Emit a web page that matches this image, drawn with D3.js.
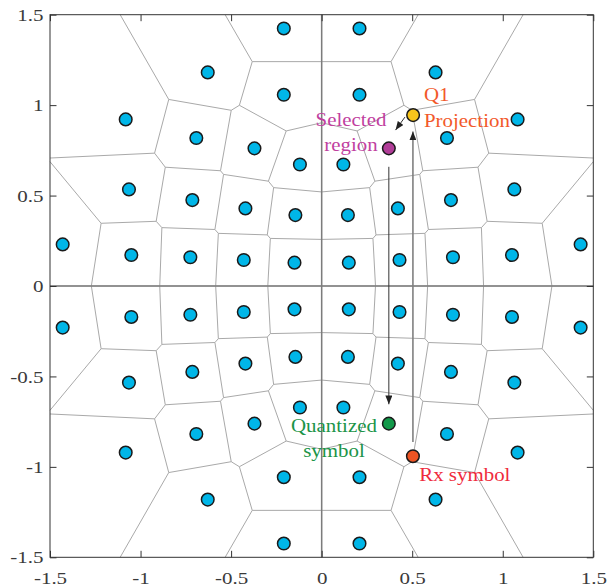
<!DOCTYPE html>
<html>
<head>
<meta charset="utf-8">
<script src="https://cdn.jsdelivr.net/npm/d3@7"></script>
<style>
  body { margin: 0; background: #fff; }
  svg { display: block; }
  text { font-family: "Liberation Serif", "Times New Roman", serif; }
</style>
</head>
<body>
<div id="chart"></div>
<script>
// ---------------- DATA ----------------

// 64-point constellation, listed Q1, Q2, Q3, Q4
const constX = [
   0.150,  0.430,  0.725,  1.051,  1.430,  0.145,  0.421,  0.714,  1.064,  0.120,  0.371,  0.692,  1.082,  0.209,  0.629,  0.209,
  -0.150, -0.430, -0.725, -1.051, -1.430, -0.145, -0.421, -0.714, -1.064, -0.120, -0.371, -0.692, -1.082, -0.209, -0.629, -0.209,
  -0.150, -0.430, -0.725, -1.051, -1.430, -0.145, -0.421, -0.714, -1.064, -0.120, -0.371, -0.692, -1.082, -0.209, -0.629, -0.209,
   0.150,  0.430,  0.725,  1.051,  1.430,  0.145,  0.421,  0.714,  1.064,  0.120,  0.371,  0.692,  1.082,  0.209,  0.629,  0.209
];
const constY = [
   0.129,  0.144,  0.159,  0.171,  0.230,  0.392,  0.429,  0.475,  0.534,  0.672,  0.761,  0.818,  0.921,  1.057,  1.181,  1.424,
   0.129,  0.144,  0.159,  0.171,  0.230,  0.392,  0.429,  0.475,  0.534,  0.672,  0.761,  0.818,  0.921,  1.057,  1.181,  1.424,
  -0.129, -0.144, -0.159, -0.171, -0.230, -0.392, -0.429, -0.475, -0.534, -0.672, -0.761, -0.818, -0.921, -1.057, -1.181, -1.424,
  -0.129, -0.144, -0.159, -0.171, -0.230, -0.392, -0.429, -0.475, -0.534, -0.672, -0.761, -0.818, -0.921, -1.057, -1.181, -1.424
];
const selectedIdx = 10;   // selected region (Q1)
const quantizedIdx = 58;  // quantized symbol (Q4)

const projPoint = [0.505, 0.945];
const rxPoint = [0.504, -0.941];

const tickVals = [-1.5, -1, -0.5, 0, 0.5, 1, 1.5];

// annotations: text, anchor point (data units)
const labelText = ["Selected", "region", "Q1", "Projection", "Quantized", "symbol", "Rx symbol"];
const labelX = [0.162, 0.162, 0.565, 0.565, 0.068, 0.068, 0.539];
const labelY = [0.887, 0.749, 1.024, 0.881, -0.807, -0.944, -1.078];
const labelAnchor = ["middle", "middle", "start", "start", "middle", "middle", "start"];
const labelColor = ["#c13f9f", "#c13f9f", "#f2592a", "#f2592a", "#1b9448", "#1b9448", "#ef2b3c"];

// arrows: [x1, y1, x2, y2] in data units
const arrows = [
  { from: [0.504, -0.862], to: [0.504, 0.854], color: "#808080", w: 1.6 },
  { from: [0.371, 0.659], to: [0.371, -0.654], color: "#333", w: 1 },
  { from: [0.460, 0.934], to: [0.408, 0.862], color: "#333", w: 1 }
];

// ---------------- CHART ----------------

const width = 607, height = 586;
const margin = { top: 14.7, right: 13.7, bottom: 28.7, left: 50 };

const svg = d3.select("#chart")
  .append("svg")
  .attr("width", width)
  .attr("height", height);

const x = d3.scaleLinear().domain([-1.5, 1.5]).range([margin.left, width - margin.right]);
const y = d3.scaleLinear().domain([-1.5, 1.5]).range([height - margin.bottom, margin.top]);

const defs = svg.append("defs");
["#808080", "#333"].forEach((c, i) => {
  defs.append("marker")
    .attr("id", "arr" + i)
    .attr("viewBox", "0 0 10 8")
    .attr("refX", 10).attr("refY", 4)
    .attr("markerWidth", 9).attr("markerHeight", 7)
    .attr("markerUnits", "userSpaceOnUse")
    .attr("orient", "auto")
    .append("path")
    .attr("d", "M0,0 L10,4 L0,8 Z")
    .attr("fill", "#222");
});

// voronoi regions
const pts = constX.map((d, i) => [x(d), y(constY[i])]);
const voronoi = d3.Delaunay.from(pts)
  .voronoi([x(-1.5), y(1.5), x(1.5), y(-1.5)]);

svg.append("path")
  .attr("d", voronoi.render())
  .attr("fill", "none")
  .attr("stroke", "#a9a9a9")
  .attr("stroke-width", 1);

// zero lines
svg.append("line")
  .attr("x1", x(0)).attr("x2", x(0))
  .attr("y1", y(1.5)).attr("y2", y(-1.5))
  .attr("stroke", "#7c7c7c").attr("stroke-width", 1.5);
svg.append("line")
  .attr("x1", x(-1.5)).attr("x2", x(1.5))
  .attr("y1", y(0)).attr("y2", y(0))
  .attr("stroke", "#7c7c7c").attr("stroke-width", 1.5);

// axes (ticks inward, box on)
function styleAxis(g, labels) {
  g.select(".domain").remove();
  g.selectAll(".tick line").attr("stroke", "#333");
  g.selectAll("text")
    .attr("fill", "#3a3a3a")
    .style("font-size", "17.5px")
    .attr("transform", "scale(1.2,1)");
  if (!labels) g.selectAll("text").remove();
}

svg.append("g")
  .attr("transform", `translate(0,${y(-1.5)})`)
  .call(d3.axisBottom(x).tickValues(tickVals).tickSize(-6.5).tickPadding(14).tickFormat(d => String(d)))
  .call(g => styleAxis(g, true));

svg.append("g")
  .attr("transform", `translate(${x(-1.5)},0)`)
  .call(d3.axisLeft(y).tickValues(tickVals).tickSize(-6.5).tickPadding(5.5).tickFormat(d => String(d)))
  .call(g => styleAxis(g, true));

svg.append("g")
  .attr("transform", `translate(0,${y(1.5)})`)
  .call(d3.axisTop(x).tickValues(tickVals).tickSize(-6.5))
  .call(g => styleAxis(g, false));

svg.append("g")
  .attr("transform", `translate(${x(1.5)},0)`)
  .call(d3.axisRight(y).tickValues(tickVals).tickSize(-6.5))
  .call(g => styleAxis(g, false));

svg.append("rect")
  .attr("x", x(-1.5)).attr("y", y(1.5))
  .attr("width", x(1.5) - x(-1.5)).attr("height", y(-1.5) - y(1.5))
  .attr("fill", "none").attr("stroke", "#333").attr("stroke-width", 1);

// arrows
svg.append("g")
  .selectAll("line")
  .data(arrows)
  .join("line")
  .attr("x1", d => x(d.from[0])).attr("y1", d => y(d.from[1]))
  .attr("x2", d => x(d.to[0])).attr("y2", d => y(d.to[1]))
  .attr("stroke", d => d.color)
  .attr("stroke-width", d => d.w)
  .attr("marker-end", (d, i) => i === 0 ? "url(#arr0)" : "url(#arr1)");

// annotation text
svg.append("g")
  .selectAll("text")
  .data(labelText)
  .join("text")
  .attr("transform", (d, i) => `translate(${x(labelX[i])},${y(labelY[i])}) scale(1.1,1)`)
  .attr("text-anchor", (d, i) => labelAnchor[i])
  .attr("fill", (d, i) => labelColor[i])
  .style("font-size", "19px")
  .text(d => d);

// constellation points
svg.append("g")
  .selectAll("circle")
  .data(pts)
  .join("circle")
  .attr("cx", d => d[0])
  .attr("cy", d => d[1])
  .attr("r", 6.3)
  .attr("fill", (d, i) => i === selectedIdx ? "#b13d98" : i === quantizedIdx ? "#12994a" : "#00b6e8")
  .attr("stroke", "#1a1a1a")
  .attr("stroke-width", 1.5);

// projection and received symbol
svg.append("circle")
  .attr("cx", x(projPoint[0])).attr("cy", y(projPoint[1]))
  .attr("r", 6.3).attr("fill", "#f8c51c")
  .attr("stroke", "#1a1a1a").attr("stroke-width", 1.5);

svg.append("circle")
  .attr("cx", x(rxPoint[0])).attr("cy", y(rxPoint[1]))
  .attr("r", 6.3).attr("fill", "#ee5423")
  .attr("stroke", "#1a1a1a").attr("stroke-width", 1.5);
</script>
</body>
</html>
